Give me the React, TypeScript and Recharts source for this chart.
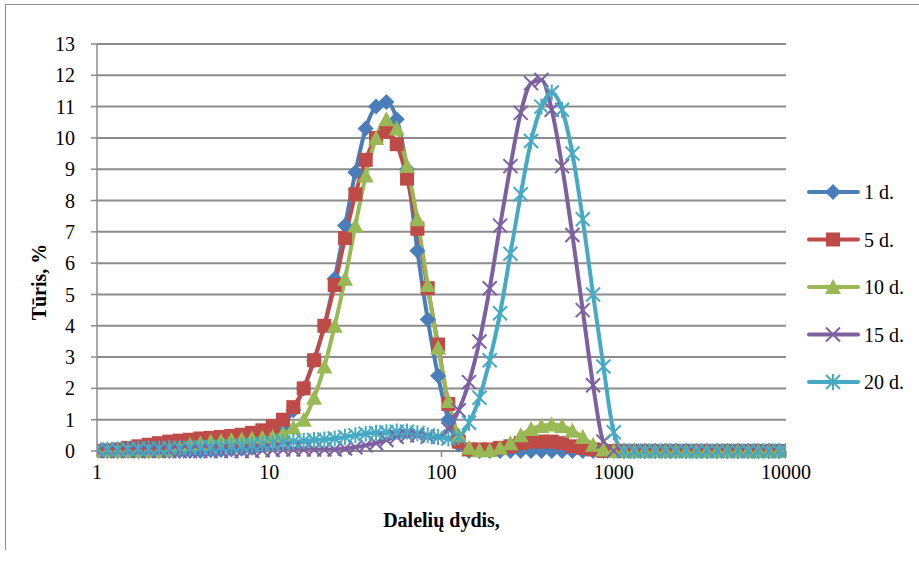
import React from 'react';
import { CartesianGrid, Label, Line, LineChart, XAxis, YAxis } from 'recharts';

// particle size classes, µm
const sizes = [
  1.0, 1.148, 1.318, 1.514, 1.738, 1.995, 2.291, 2.63, 3.02, 3.467, 3.981, 4.571, 5.248, 6.026, 6.918, 7.943,
  9.12, 10.47, 12.02, 13.8, 15.85, 18.2, 20.89, 23.99, 27.54, 31.62, 36.31, 41.69, 47.86, 54.95, 63.1, 72.44,
  83.18, 95.5, 109.6, 125.9, 144.5, 166.0, 190.5, 218.8, 251.2, 288.4, 331.1, 380.2, 436.5, 501.2, 575.4, 660.7,
  758.6, 871.0, 1000, 1148, 1318, 1514, 1738, 1995, 2291, 2630, 3020, 3467, 3981, 4571, 5248, 6026, 6918, 7943,
  9120, 10000,
];

const day1 = [
  0, 0, 0, 0, 0, 0, 0, 0, 0, 0, 0, 0.02, 0.03, 0.05, 0.07, 0.1,
  0.2, 0.4, 0.8, 1.3, 2.0, 2.9, 4.0, 5.5, 7.2, 8.9, 10.3, 11.0, 11.15, 10.6, 9.0, 6.4,
  4.2, 2.4, 1.0, 0.2, 0, 0, 0, 0, 0, 0, 0, 0, 0, 0, 0, 0,
  0, 0, 0, 0, 0, 0, 0, 0, 0, 0, 0, 0, 0, 0, 0, 0, 0, 0,
  0, 0,
];

const day5 = [
  0, 0.02, 0.05, 0.1, 0.15, 0.2, 0.25, 0.3, 0.33, 0.36, 0.4, 0.42, 0.45, 0.48, 0.52, 0.58,
  0.66, 0.8, 1.0, 1.4, 2.0, 2.9, 4.0, 5.3, 6.8, 8.2, 9.3, 10.0, 10.2, 9.8, 8.7, 7.1,
  5.2, 3.4, 1.5, 0.3, 0.05, 0.05, 0.05, 0.1, 0.15, 0.25, 0.3, 0.3, 0.3, 0.25, 0.15, 0.1,
  0.05, 0, 0, 0, 0, 0, 0, 0, 0, 0, 0, 0, 0, 0, 0, 0, 0, 0,
  0, 0,
];

const day10 = [
  0, 0, 0, 0, 0, 0, 0, 0.05, 0.1, 0.2, 0.25, 0.3, 0.32, 0.35, 0.37, 0.4,
  0.42, 0.45, 0.55, 0.75, 1.0, 1.7, 2.7, 4.0, 5.5, 7.2, 8.8, 10.0, 10.6, 10.3, 9.1, 7.4,
  5.3, 3.3, 1.6, 0.5, 0.1, 0.02, 0.02, 0.1, 0.25, 0.5, 0.7, 0.8, 0.85, 0.8, 0.65, 0.45,
  0.2, 0.05, 0, 0, 0, 0, 0, 0, 0, 0, 0, 0, 0, 0, 0, 0, 0, 0,
  0, 0,
];

const day15 = [
  0, 0, 0, 0, 0, 0, 0, 0, 0, 0, 0, 0, 0, 0, 0, 0,
  0.02, 0.03, 0.05, 0.05, 0.05, 0.05, 0.05, 0.05, 0.08, 0.12, 0.18, 0.25, 0.35, 0.45, 0.5, 0.5,
  0.45, 0.45, 0.7, 1.3, 2.2, 3.5, 5.2, 7.2, 9.1, 10.8, 11.75, 11.85, 10.9, 9.1, 6.9, 4.5,
  2.1, 0.3, 0, 0, 0, 0, 0, 0, 0, 0, 0, 0, 0, 0, 0, 0, 0, 0,
  0, 0,
];

const day20 = [
  0.05, 0.05, 0.05, 0.06, 0.07, 0.08, 0.08, 0.1, 0.1, 0.1, 0.12, 0.12, 0.14, 0.15, 0.17, 0.2,
  0.22, 0.25, 0.27, 0.3, 0.32, 0.35, 0.37, 0.4, 0.45, 0.5, 0.55, 0.58, 0.6, 0.62, 0.62, 0.57,
  0.5, 0.45, 0.4, 0.45, 0.9, 1.7, 2.9, 4.4, 6.3, 8.2, 9.9, 11.0, 11.45, 10.9, 9.5, 7.4,
  5.0, 2.7, 0.6, 0, 0, 0, 0, 0, 0, 0, 0, 0, 0, 0, 0, 0, 0, 0,
  0, 0,
];

const yTicks = [0, 1, 2, 3, 4, 5, 6, 7, 8, 9, 10, 11, 12, 13];
const xTicks = [1, 10, 100, 1000, 10000];

const series = [
  { key: 'd1', name: '1 d.', color: '#4A7EBB', values: day1, marker: 'diamond' },
  { key: 'd5', name: '5 d.', color: '#BE4B48', values: day5, marker: 'square' },
  { key: 'd10', name: '10 d.', color: '#98B954', values: day10, marker: 'triangle' },
  { key: 'd15', name: '15 d.', color: '#7D60A0', values: day15, marker: 'x' },
  { key: 'd20', name: '20 d.', color: '#46AAC5', values: day20, marker: 'star' },
];

const data = sizes.map((x, i) => {
  const row: any = { x };
  series.forEach((s) => (row[s.key] = s.values[i]));
  return row;
});

const FONT = '"Liberation Serif", "Times New Roman", serif';
const GRID = '#8c8c8c';

function Marker({ kind, cx, cy, color }: { kind: string; cx: number; cy: number; color: string }) {
  switch (kind) {
    case 'diamond':
      return <polygon points={`${cx},${cy - 8} ${cx + 8},${cy} ${cx},${cy + 8} ${cx - 8},${cy}`} fill={color} />;
    case 'square':
      return <rect x={cx - 7} y={cy - 7} width={14} height={14} fill={color} />;
    case 'triangle':
      return <polygon points={`${cx},${cy - 8} ${cx + 8},${cy + 7} ${cx - 8},${cy + 7}`} fill={color} />;
    case 'x':
      return (
        <path
          d={`M${cx - 7},${cy - 7}L${cx + 7},${cy + 7}M${cx - 7},${cy + 7}L${cx + 7},${cy - 7}`}
          stroke={color}
          strokeWidth={2}
        />
      );
    default:
      return (
        <path
          d={`M${cx - 7},${cy - 7}L${cx + 7},${cy + 7}M${cx - 7},${cy + 7}L${cx + 7},${cy - 7}M${cx},${cy - 8}L${cx},${cy + 8}`}
          stroke={color}
          strokeWidth={2}
        />
      );
  }
}

const makeDot = (kind: string, color: string) => (props: any) => {
  const { cx, cy, index } = props;
  if (cx == null || cy == null) return <g key={`m-${index}`} />;
  return (
    <g key={`m-${index}`}>
      <Marker kind={kind} cx={cx} cy={cy} color={color} />
    </g>
  );
};

const ChartLegend = () => (
  <svg width={119} height={240} style={{ position: 'absolute', left: 800, top: 175 }}>
    {series.map((s, i) => {
      const y = 17 + i * 47.5;
      return (
        <g key={s.key}>
          <line x1={9} x2={58} y1={y} y2={y} stroke={s.color} strokeWidth={4} strokeLinecap="round" />
          <Marker kind={s.marker} cx={33} cy={y} color={s.color} />
          <text x={64} y={y + 7} fontFamily={FONT} fontSize={20} fill="#000">
            {s.name}
          </text>
        </g>
      );
    })}
  </svg>
);

export default function App() {
  return (
    <div style={{ position: 'absolute', left: 0, top: 0, width: 919, height: 565, background: '#fff' }}>
      <div
        style={{
          position: 'absolute',
          left: 5,
          top: 4,
          width: 920,
          height: 545,
          borderTop: `1.5px solid ${GRID}`,
          borderLeft: `1.5px solid ${GRID}`,
        }}
      />
      <LineChart
        width={919}
        height={565}
        data={data}
        margin={{ top: 44, right: 133, bottom: 0, left: 0 }}
        style={{ position: 'absolute', left: 0, top: 0 }}
      >
        <CartesianGrid vertical={false} stroke={GRID} strokeWidth={2} />
        <XAxis
          dataKey="x"
          type="number"
          scale="log"
          domain={[1, 10000]}
          ticks={xTicks}
          allowDataOverflow
          height={114}
          tickSize={6}
          tickMargin={8}
          stroke={GRID}
          strokeWidth={1.5}
          tick={{ fill: '#000', fontSize: 20, fontFamily: FONT }}
          tickFormatter={(v) => String(v)}
        >
          <Label
            value="Dalelių dydis,"
            position="insideBottom"
            offset={38}
            style={{ fontFamily: FONT, fontSize: 20, fontWeight: 'bold', fill: '#000' }}
          />
        </XAxis>
        <YAxis
          domain={[0, 13]}
          ticks={yTicks}
          interval={0}
          width={97}
          tickSize={6}
          tickMargin={16}
          stroke={GRID}
          strokeWidth={1.5}
          tick={{ fill: '#000', fontSize: 20, fontFamily: FONT }}
        >
          <Label
            content={() => (
              <text
                x={46}
                y={282}
                transform="rotate(-90 46 282)"
                textAnchor="middle"
                fontFamily={FONT}
                fontSize={20}
                fontWeight="bold"
                fill="#000"
              >
                Tūris, %
              </text>
            )}
          />
        </YAxis>
        {series.map((s) => (
          <Line
            key={s.key}
            type="monotone"
            dataKey={s.key}
            name={s.name}
            stroke={s.color}
            strokeWidth={4}
            dot={makeDot(s.marker, s.color)}
            activeDot={false}
            isAnimationActive={false}
          />
        ))}
      </LineChart>
      <ChartLegend />
    </div>
  );
}
